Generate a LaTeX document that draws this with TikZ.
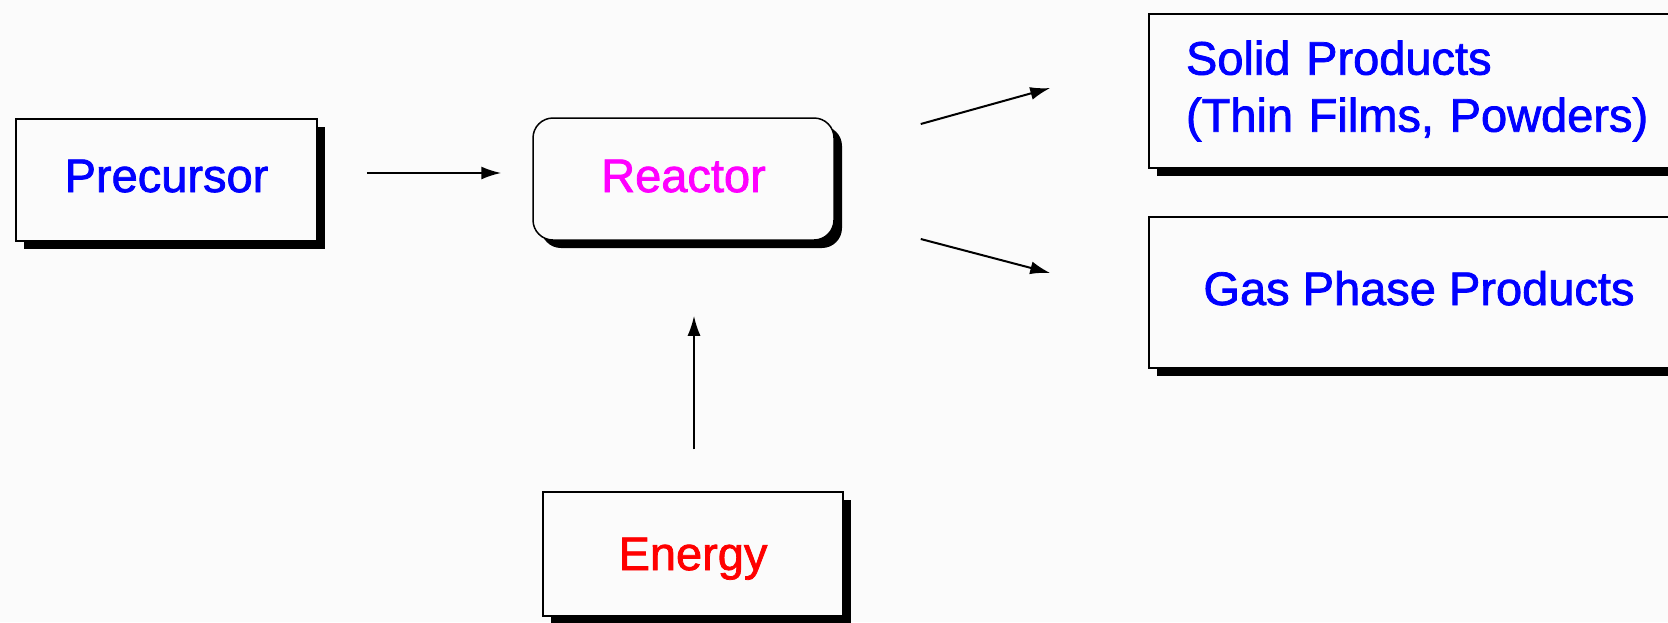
\documentclass[tikz,border=0pt]{standalone}
\usepackage{fontspec}
\setmainfont{Liberation Sans}
\newfontfamily\boxfont{Liberation Sans}[FakeBold=1.6]
\usetikzlibrary{shadows,arrows.meta,calc}
\definecolor{bg}{RGB}{251,251,251}
\definecolor{tblue}{RGB}{0,0,255}
\definecolor{tmag}{RGB}{255,0,255}
\definecolor{tred}{RGB}{255,0,0}
\tikzset{
  box/.style={draw=black, line width=1.5pt, fill=bg, inner sep=0pt,
    font=\boxfont\fontsize{47}{57}\selectfont,
    drop shadow={shadow xshift=8pt, shadow yshift=-8pt, fill=black, opacity=1}},
  arr/.style={line width=2pt, -{Latex[length=20pt,width=13pt]}}
}
\begin{document}
\begin{tikzpicture}[x=1pt,y=-1pt]
\fill[bg] (0,0) rectangle (1668,622);
\clip (0,0) rectangle (1668,622);
\node[box, minimum width=301pt, minimum height=122pt, text=tblue, text height=26pt, text depth=2pt] (prec) at (166.5,180) {Precursor};
\node[box, rounded corners=20pt, minimum width=301pt, minimum height=122pt, text=tmag, text height=28pt, text depth=2pt] (reactor) at (683.5,179) {Reactor};
\node[box, minimum width=300pt, minimum height=124pt, text=tred, text height=34pt, text depth=2pt] (energy) at (693,554) {Energy};
\node[box, minimum width=540pt, minimum height=154pt, text=tblue, text width=466pt, inner xsep=37pt, align=left] (solid) at (1419,91) {Solid Products\\(Thin Films, Powders)};
\node[box, minimum width=540pt, minimum height=151pt, text=tblue, text height=27pt, text depth=2pt] (gas) at (1419,292.5) {Gas Phase Products};
\draw[arr] ($(prec.east)+(49,-7)$) -- ($(reactor.west)+(-31,-6)$);
\draw[arr] ($(energy.north)+(1,-42)$) -- ($(energy.north |- reactor.south)+(1,75)$);
\draw[arr] ($(reactor.east)+(86,-55)$) -- ($(solid.west)+(-98,-3)$);
\draw[arr] ($(reactor.east)+(86,60)$) -- ($(gas.west)+(-98,-19.5)$);
\end{tikzpicture}
\end{document}
